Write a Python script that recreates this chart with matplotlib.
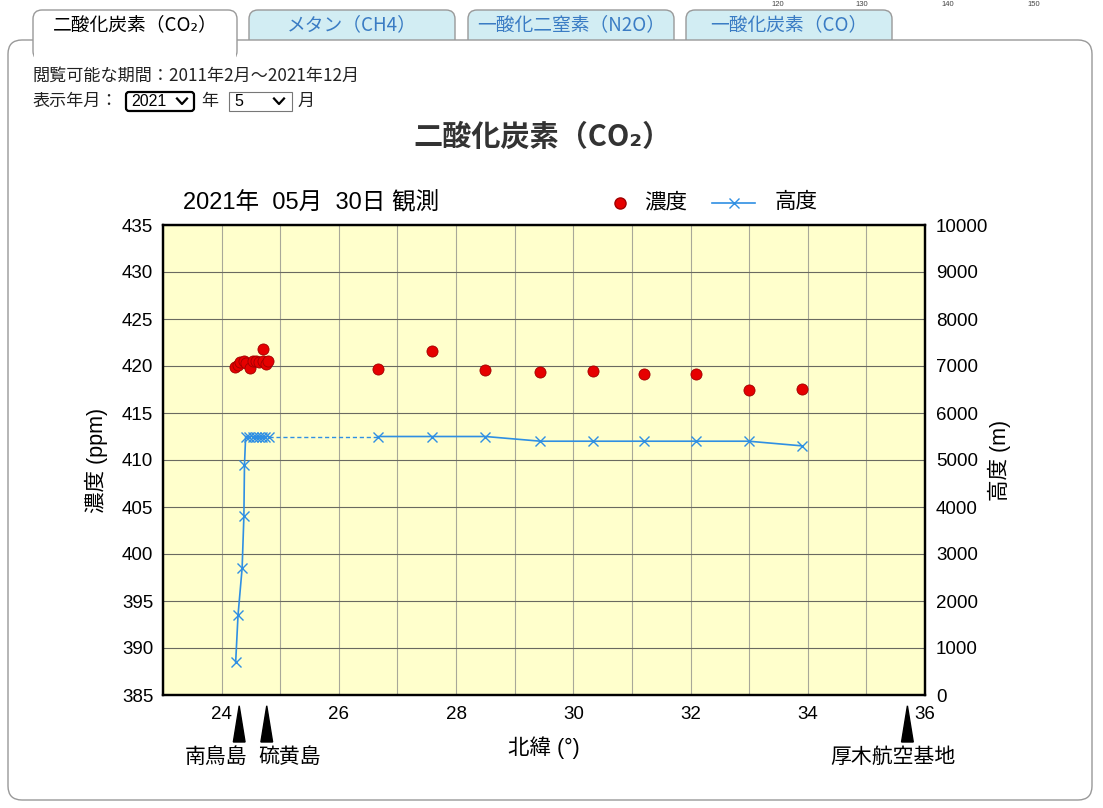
import matplotlib
matplotlib.use('Agg')
import matplotlib.pyplot as plt
import matplotlib.transforms as mtransforms
from matplotlib.patches import FancyBboxPatch, Rectangle, Polygon
from matplotlib.lines import Line2D

plt.rcParams['font.family'] = ['Liberation Sans', 'Noto Sans CJK JP', 'DejaVu Sans']
JP = ['Noto Sans CJK JP', 'DejaVu Sans']

# 濃度 (CO2, ppm) の観測点
lat_co2 = [24.22, 24.28, 24.32, 24.38, 24.42, 24.49, 24.54, 24.59, 24.64, 24.70, 24.70,
           24.75, 24.79, 26.67, 27.59, 28.50, 29.44, 30.34, 31.20, 32.10, 32.99, 33.91]
co2 = [419.9, 420.1, 420.4, 420.5, 420.3, 419.8, 420.5, 420.5, 420.4, 421.8, 420.5,
       420.2, 420.5, 419.7, 421.6, 419.6, 419.4, 419.5, 419.1, 419.1, 417.5, 417.6]

# 高度 (m): 上昇時と巡航時
lat_alt_up = [24.24, 24.28, 24.35, 24.38, 24.39, 24.41, 24.47, 24.54, 24.59, 24.64, 24.69, 24.74, 24.80]
alt_up = [700, 1700, 2700, 3800, 4900, 5500, 5500, 5500, 5500, 5500, 5500, 5500, 5500]
lat_alt_cruise = [26.67, 27.59, 28.50, 29.44, 30.34, 31.20, 32.10, 32.99, 33.91]
alt_cruise = [5500, 5500, 5500, 5400, 5400, 5400, 5400, 5400, 5300]

# 基地の位置
station_names = ['南鳥島', '硫黄島', '厚木航空基地']
station_lat = [24.30, 24.77, 35.70]
label_lat = [23.90, 25.16, 35.45]

tab_names = ['二酸化炭素（CO₂）', 'メタン（CH4）', '一酸化二窒素（N2O）', '一酸化炭素（CO）']

RED = '#e60000'
BLUE = '#2f8fe3'

fig = plt.figure(figsize=(11.03, 8.08), dpi=100)

# ページ部分 (ピクセル座標)
bg = fig.add_axes([0, 0, 1, 1])
bg.set_xlim(0, 1103)
bg.set_ylim(808, 0)
bg.axis('off')

for i, x0 in enumerate([249, 468, 686]):
    bg.add_patch(FancyBboxPatch((x0, 10), 206, 40, boxstyle='round,pad=0,rounding_size=9',
                                facecolor='#d2edf3', edgecolor='#999999', lw=1, zorder=1))
    bg.text(x0 + 103, 25, tab_names[i + 1], ha='center', va='center', fontsize=13.5,
            color='#3a7cc4', family=JP, zorder=2)

bg.add_patch(FancyBboxPatch((8, 40), 1084, 760, boxstyle='round,pad=0,rounding_size=14',
                            facecolor='white', edgecolor='#999999', lw=1, zorder=3))
bg.add_patch(FancyBboxPatch((33, 10), 204, 50, boxstyle='round,pad=0,rounding_size=9',
                            facecolor='white', edgecolor='#999999', lw=1, zorder=4))
bg.add_patch(Rectangle((33.8, 40.6), 202.4, 22, facecolor='white', edgecolor='none', zorder=5))
bg.text(135, 25, tab_names[0], ha='center', va='center', fontsize=13.5, family=JP, zorder=6)

for xs, s in zip([778, 862, 948, 1034], ['120', '130', '140', '150']):
    bg.text(xs, 5, s, ha='center', va='center', fontsize=5.5, color='#444444', zorder=2)

bg.text(33, 76, '閲覧可能な期間：2011年2月～2021年12月', ha='left', va='center',
        fontsize=12.3, color='#222222', family=JP, zorder=6)
bg.text(33, 101, '表示年月：', ha='left', va='center', fontsize=12.3, color='#222222', family=JP, zorder=6)
bg.add_patch(FancyBboxPatch((126, 92), 68, 19, boxstyle='round,pad=0,rounding_size=3',
                            facecolor='white', edgecolor='black', lw=1.6, zorder=6))
bg.text(131, 101.5, '2021', ha='left', va='center', fontsize=11.5, zorder=7)
bg.add_patch(Rectangle((229, 92), 63, 19, facecolor='white', edgecolor='#777777', lw=0.8, zorder=6))
bg.text(234, 101.5, '5', ha='left', va='center', fontsize=11.5, zorder=7)
for cx in [182, 279]:
    bg.add_line(Line2D([cx - 5, cx, cx + 5], [98.5, 104, 98.5], color='black', lw=1.6, zorder=7))
bg.text(201, 101, '年', ha='left', va='center', fontsize=12.3, color='#222222', family=JP, zorder=6)
bg.text(298, 101, '月', ha='left', va='center', fontsize=12.3, color='#222222', family=JP, zorder=6)

fig.text(543 / 1103, 1 - 137 / 808, '二酸化炭素（CO₂）', ha='center', va='center',
         fontsize=21, fontweight='bold', color='#333333', family=JP)

# グラフ本体
ax = fig.add_axes([163 / 1103, 1 - 695 / 808, 762 / 1103, 470 / 808], zorder=10)
ax.set_facecolor('#ffffcc')
ax.set_xlim(23, 36)
ax.set_ylim(385, 435)
ax.set_xticks(range(24, 37, 2))
ax.set_xticks(range(23, 37), minor=True)
ax.set_yticks(range(385, 436, 5))
ax.grid(axis='x', which='both', color='#a8a898', lw=0.8)
ax.grid(axis='y', color='#6a6a60', lw=0.8)
ax.tick_params(axis='both', which='both', length=0, labelsize=13.5)
ax.tick_params(axis='y', pad=7)
ax.tick_params(axis='x', pad=8)
for sp in ax.spines.values():
    sp.set_linewidth(1.6)

ax.plot(lat_co2, co2, 'o', color=RED, mec='#a00000', mew=0.6, ms=8, zorder=3)

ax2 = ax.twinx()
ax2.set_ylim(0, 10000)
ax2.set_yticks(range(0, 10001, 1000))
ax2.tick_params(axis='y', length=0, labelsize=13.5, pad=8)
for sp in ax2.spines.values():
    sp.set_linewidth(1.6)
ax2.plot(lat_alt_up, alt_up, color=BLUE, lw=1.2, marker='x', ms=7, mew=1)
ax2.plot([lat_alt_up[-1], lat_alt_cruise[0]], [alt_up[-1], alt_cruise[0]],
         color=BLUE, lw=1, ls=(0, (3, 2)))
ax2.plot(lat_alt_cruise, alt_cruise, color=BLUE, lw=1.2, marker='x', ms=7, mew=1)

ax.text(-0.087, 0.5, '濃度 (ppm)', transform=ax.transAxes, rotation=90,
        ha='center', va='center', fontsize=15.5)
ax.text(1.098, 0.5, '高度 (m)', transform=ax.transAxes, rotation=90,
        ha='center', va='center', fontsize=15.5)
ax.text(0.5, -0.113, '北緯 (°)', transform=ax.transAxes, ha='center', va='center', fontsize=15.5)

# 観測日と凡例
ax.text(0.026, 1.047, '2021年  05月  30日 観測', transform=ax.transAxes,
        ha='left', va='center', fontsize=17)
ax.add_line(Line2D([0.5997], [1.047], transform=ax.transAxes, marker='o', color=RED,
                   mec='#a00000', ms=8, clip_on=False))
ax.text(0.632, 1.047, '濃度', transform=ax.transAxes, ha='left', va='center', fontsize=15.5)
ax.add_line(Line2D([0.7205, 0.777], [1.047, 1.047], transform=ax.transAxes, color=BLUE,
                   lw=1.2, clip_on=False))
ax.add_line(Line2D([0.7487], [1.047], transform=ax.transAxes, color=BLUE, marker='x',
                   ms=7, mew=1, clip_on=False))
ax.text(0.803, 1.047, '高度', transform=ax.transAxes, ha='left', va='center', fontsize=15.5)

# 基地の三角印
trans = mtransforms.blended_transform_factory(ax.transData, ax.transAxes)
for name, lat, lx in zip(station_names, station_lat, label_lat):
    ax.add_patch(Polygon([[lat - 0.1, -0.1], [lat + 0.1, -0.1], [lat, -0.023]],
                         closed=True, color='black', transform=trans, clip_on=False))
    ax.text(lx, -0.133, name, transform=trans, ha='center', va='center', fontsize=15)

fig.savefig('out.png', dpi=100)
